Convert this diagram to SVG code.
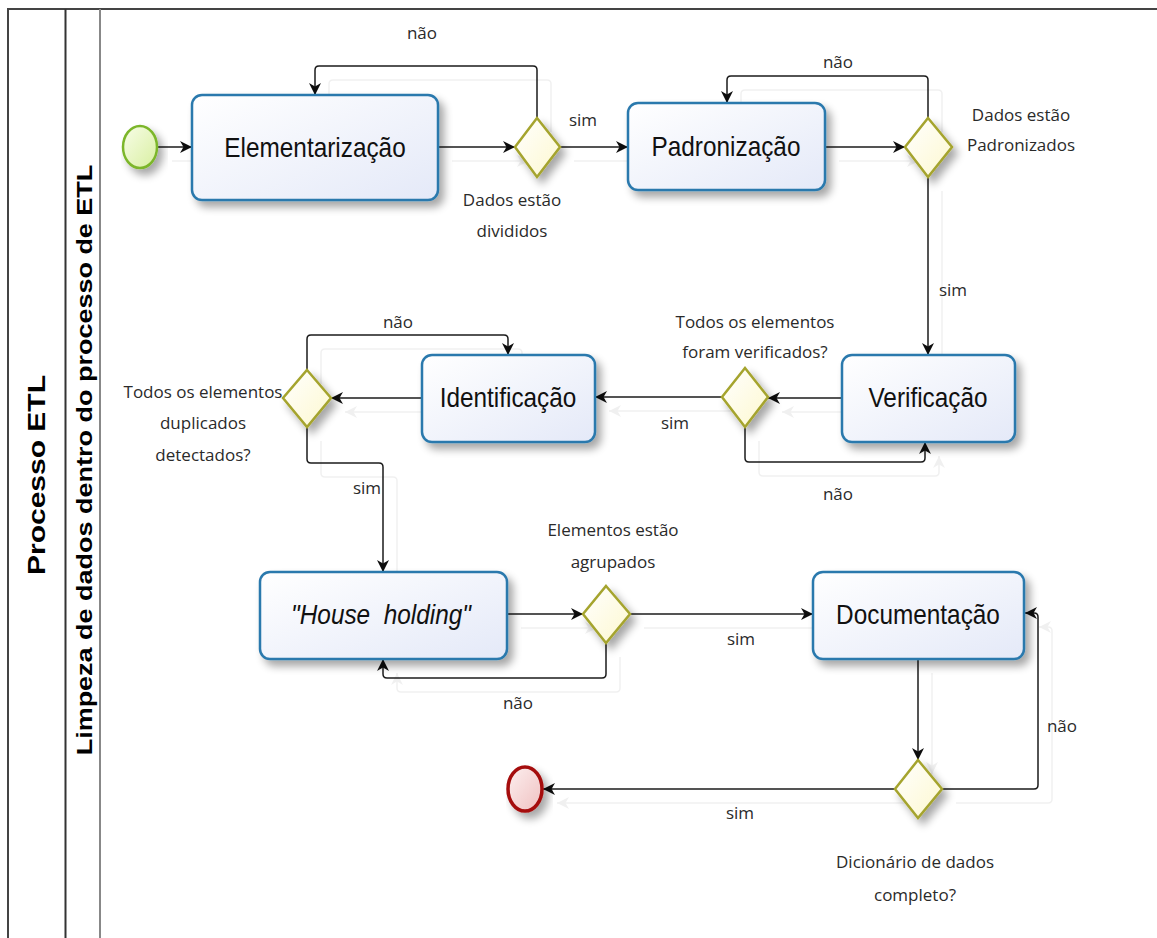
<svg xmlns="http://www.w3.org/2000/svg" width="1157" height="938" viewBox="0 0 1157 938">
<defs>
<linearGradient id="gTask" x1="0" y1="0" x2="1" y2="1">
<stop offset="0" stop-color="#ffffff"/><stop offset="1" stop-color="#e4e9f8"/>
</linearGradient>
<linearGradient id="gGw" x1="0" y1="0" x2="1" y2="1">
<stop offset="0" stop-color="#ffffff"/><stop offset="1" stop-color="#fdf8cf"/>
</linearGradient>
<linearGradient id="gStart" x1="0" y1="0" x2="1" y2="1">
<stop offset="0" stop-color="#f8fde8"/><stop offset="1" stop-color="#d8efa0"/>
</linearGradient>
<linearGradient id="gEnd" x1="0" y1="0" x2="1" y2="1">
<stop offset="0" stop-color="#fdf0f0"/><stop offset="1" stop-color="#efc0c0"/>
</linearGradient>
<filter id="shadow" x="-20%" y="-20%" width="150%" height="160%">
<feGaussianBlur in="SourceAlpha" stdDeviation="4"/>
<feOffset dx="5" dy="6" result="b"/>
<feComponentTransfer><feFuncA type="linear" slope="0.35"/></feComponentTransfer>
<feMerge><feMergeNode/><feMergeNode in="SourceGraphic"/></feMerge>
</filter>
<filter id="lshadow" x="-10%" y="-10%" width="130%" height="130%">
<feOffset in="SourceAlpha" dx="14" dy="14"/>
<feComponentTransfer><feFuncA type="linear" slope="0.06"/></feComponentTransfer>
<feMerge><feMergeNode/><feMergeNode in="SourceGraphic"/></feMerge>
</filter>
<marker id="arr" markerUnits="userSpaceOnUse" markerWidth="14" markerHeight="14" refX="13" refY="7" orient="auto">
<path d="M1,1 L13,7 L1,13 L4.5,7 z" fill="#111"/>
</marker>
<style>
.task{fill:url(#gTask);stroke:#2b79ad;stroke-width:2.5;filter:url(#shadow)}
.gw{fill:url(#gGw);stroke:#a5a42e;stroke-width:2.5;filter:url(#shadow)}
.tt{font-family:"Liberation Sans",Arial,sans-serif;font-size:28px;fill:#111;text-anchor:middle}
.lb{font-family:"Open Sans","Liberation Sans",sans-serif;font-size:17px;fill:#2a2a2a;text-anchor:middle}
.cn{fill:none;stroke:#1a1a1a;stroke-width:1.5;marker-end:url(#arr)}
.pool{fill:none;stroke:#444;stroke-width:2}
.ptitle{font-family:"Liberation Sans",Arial,sans-serif;font-weight:bold;fill:#000;text-anchor:middle}
</style>
</defs>
<rect width="1157" height="938" fill="#ffffff"/>

<g id="pool">
<path class="pool" d="M8,945 V9 H1160"/>
<line x1="65.5" y1="9" x2="65.5" y2="945" stroke="#333" stroke-width="2"/>
<line x1="100" y1="9" x2="100" y2="945" stroke="#888" stroke-width="2"/>
<text class="ptitle" font-size="30" transform="translate(45,475) scale(0.8,1) rotate(-90)">Processo ETL</text>
<text class="ptitle" font-size="27" transform="translate(92,460) scale(0.82,1) rotate(-90)">Limpeza de dados dentro do processo de ETL</text>
</g>

<g id="connectors" filter="url(#lshadow)">
<path class="cn" d="M158,147 H192"/>
<path class="cn" d="M438,147 H515"/>
<path class="cn" d="M537,118 V70 Q537,66 533,66 H319 Q315,66 315,70 V95"/>
<path class="cn" d="M560,147 H628"/>
<path class="cn" d="M825,147 H905"/>
<path class="cn" d="M928,118 V80 Q928,76 924,76 H731 Q727,76 727,80 V103"/>
<path class="cn" d="M928,177 V355"/>
<path class="cn" d="M842,398 H768"/>
<path class="cn" d="M745,427 V458 Q745,462 749,462 H921 Q925,462 925,458 V442"/>
<path class="cn" d="M722,397 H595"/>
<path class="cn" d="M422,398 H331"/>
<path class="cn" d="M307,370 V339 Q307,335 311,335 H504 Q508,335 508,339 V355"/>
<path class="cn" d="M307,427 V459 Q307,463 311,463 H379 Q383,463 383,467 V572"/>
<path class="cn" d="M507,614 H583"/>
<path class="cn" d="M606,643 V674 Q606,678 602,678 H387 Q383,678 383,674 V659"/>
<path class="cn" d="M630,614 H813"/>
<path class="cn" d="M918,659 V760"/>
<path class="cn" d="M942,789 H1034 Q1038,789 1038,785 V617 Q1038,613 1034,613 H1025"/>
<path class="cn" d="M895,789 H543"/>
</g>

<g id="labels">
<text class="lb" x="422" y="39">não</text>
<text class="lb" x="583" y="126">sim</text>
<text class="lb" x="512" y="206">Dados estão</text>
<text class="lb" x="512" y="237">divididos</text>
<text class="lb" x="838" y="68">não</text>
<text class="lb" x="1021" y="121">Dados estão</text>
<text class="lb" x="1021" y="151">Padronizados</text>
<text class="lb" x="953" y="296">sim</text>
<text class="lb" x="755" y="328">Todos os elementos</text>
<text class="lb" x="755" y="358">foram verificados?</text>
<text class="lb" x="398" y="328">não</text>
<text class="lb" x="203" y="398">Todos os elementos</text>
<text class="lb" x="203" y="429">duplicados</text>
<text class="lb" x="203" y="461">detectados?</text>
<text class="lb" x="675" y="429">sim</text>
<text class="lb" x="838" y="500">não</text>
<text class="lb" x="367" y="494">sim</text>
<text class="lb" x="613" y="536">Elementos estão</text>
<text class="lb" x="613" y="568">agrupados</text>
<text class="lb" x="741" y="645">sim</text>
<text class="lb" x="518" y="709">não</text>
<text class="lb" x="1062" y="732">não</text>
<text class="lb" x="740" y="819">sim</text>
<text class="lb" x="915" y="868">Dicionário de dados</text>
<text class="lb" x="915" y="901">completo?</text>
</g>

<g id="start">
<ellipse cx="140" cy="147" rx="17" ry="21" fill="url(#gStart)" stroke="#7cb62c" stroke-width="2.5" filter="url(#shadow)"/>
</g>
<g id="elementarizacao">
<rect class="task" x="192" y="95" width="246" height="105" rx="10"/>
<text class="tt" transform="translate(315,157) scale(0.87,1)">Elementarização</text>
</g>
<g id="gw1"><path class="gw" d="M537,118 L560,147 L537,177 L515,147 Z"/></g>
<g id="padronizacao">
<rect class="task" x="628" y="103" width="197" height="87" rx="10"/>
<text class="tt" transform="translate(726,156) scale(0.87,1)">Padronização</text>
</g>
<g id="gw2"><path class="gw" d="M928,118 L952,147 L928,177 L905,147 Z"/></g>
<g id="verificacao">
<rect class="task" x="842" y="355" width="173" height="87" rx="10"/>
<text class="tt" transform="translate(928,407) scale(0.87,1)">Verificação</text>
</g>
<g id="gw3"><path class="gw" d="M745,368 L768,397 L745,427 L722,397 Z"/></g>
<g id="identificacao">
<rect class="task" x="422" y="355" width="173" height="87" rx="10"/>
<text class="tt" transform="translate(508,407) scale(0.87,1)">Identificação</text>
</g>
<g id="gw4"><path class="gw" d="M307,370 L331,398 L307,427 L283,398 Z"/></g>
<g id="householding">
<rect class="task" x="260" y="572" width="247" height="87" rx="10"/>
<text class="tt" transform="translate(381,624) scale(0.87,1)" font-style="italic" style="white-space:pre">"House  holding"</text>
</g>
<g id="gw5"><path class="gw" d="M606,586 L630,614 L606,643 L583,614 Z"/></g>
<g id="documentacao">
<rect class="task" x="813" y="572" width="211" height="87" rx="10"/>
<text class="tt" transform="translate(918,624) scale(0.87,1)">Documentação</text>
</g>
<g id="gw6"><path class="gw" d="M918,760 L942,789 L918,818 L895,789 Z"/></g>
<g id="end">
<ellipse cx="525" cy="789" rx="17" ry="22" fill="url(#gEnd)" stroke="#a50d0d" stroke-width="3.5" filter="url(#shadow)"/>
</g>
</svg>
